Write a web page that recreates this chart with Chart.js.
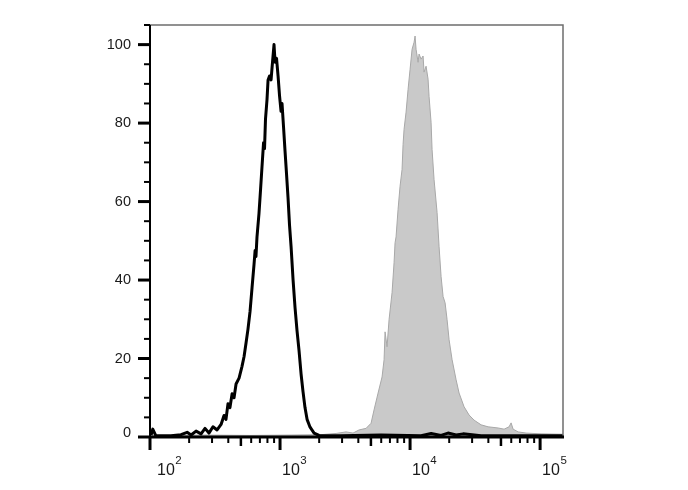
<!DOCTYPE html>
<html>
<head>
<meta charset="utf-8">
<script src="https://cdn.jsdelivr.net/npm/chart.js@4/dist/chart.umd.min.js"></script>
<style>
  html, body { margin: 0; padding: 0; background: #fff; }
  canvas { display: block; }
</style>
</head>
<body>
<canvas id="histo" width="688" height="490"></canvas>
<script>
// black outline histogram (unstained / isotype)
const blackX = [102, 105, 111, 145, 173, 193, 207, 226, 247, 265, 284, 305, 328, 352, 371, 384, 398, 412, 428, 443,
  459, 484, 510, 529, 548, 567, 588, 609, 631, 643, 653, 665, 689, 708, 727, 747, 760, 773, 794, 809,
  830, 853, 875, 899, 916, 940, 966, 991, 1018, 1036, 1064, 1092, 1122, 1152, 1183, 1216, 1260, 1304, 1352, 1400,
  1452, 1503, 1556, 1614, 1702, 1828, 1995, 2944, 5984, 12162, 14521, 17298, 19588, 22594, 25586, 35156, 71450, 150000];
const blackY = [0.5, 2.0, 0.3, 0.3, 0.6, 1.2, 0.5, 1.5, 0.8, 2.2, 1.0, 2.6, 1.8, 3.2, 5.5, 4.5, 8.5, 7.5, 11, 10,
  13.5, 15, 18, 20.5, 24, 27.5, 32, 38, 44, 47.5, 46, 51, 57, 63, 69, 75, 73.5, 81, 86, 91,
  92, 91, 95.5, 100, 95.5, 96.5, 92, 87, 83, 85, 79, 73, 67, 61, 54, 48.5, 40, 33, 27, 22,
  16, 11.5, 7.5, 4.5, 2.5, 1.0, 0.4, 0.3, 0.5, 0.3, 0.9, 0.4, 1.0, 0.5, 0.8, 0.3, 0.3, 0.3];

// grey filled histogram (stained)
const greyX = [102, 247, 598, 1216, 2068, 2697, 3219, 3643, 4053, 4587, 5012, 5284, 5674, 6090, 6310, 6423, 6653, 6892, 7268, 7530,
  7665, 7802, 8084, 8376, 8678, 8834, 8991, 9316, 9652, 10000, 10361, 10734, 10926, 11122, 11524, 11729, 12152, 12589, 12813, 13275,
  13753, 14000, 14505, 14763, 15296, 16134, 16716, 17318, 17943, 18590, 19260, 19953, 21043, 22589, 23823, 26028, 28436, 31071, 35179, 39811,
  47534, 52868, 57744, 59842, 61998, 67746, 78019, 101790, 150000];
const greyY = [0.3, 0.5, 0.4, 0.5, 0.6, 0.9, 1.3, 1.0, 1.8, 2.2, 3.5, 6.9, 11.2, 15.3, 19.7, 26.8, 23, 29.9, 36.8, 44.4,
  49.5, 51, 58, 63.9, 68.2, 74.6, 78.4, 82.8, 88.6, 93.7, 98.8, 100.6, 102.2, 98.8, 95.5, 97.6, 96.3, 97.1, 93, 94.5,
  91.2, 86.8, 80.2, 73.3, 65.6, 57.2, 48.5, 40.9, 35.8, 34.2, 29.9, 24.8, 19.7, 14.6, 11.2, 7.7, 5.6, 4.3, 3.1, 2.6,
  2.3, 2.0, 2.6, 3.6, 2.0, 1.3, 1.0, 0.8, 0.7];

const yLabels = [0, 20, 40, 60, 80, 100];
const xDecades = [2, 3, 4, 5];
const xMin = 100, xMax = 150000;
const yMin = 0, yMax = 105;

function points(xs, ys) {
  return xs.map((x, i) => ({ x: x, y: ys[i] }));
}

const FONT = '"Liberation Sans", Arial, sans-serif';

const axesPlugin = {
  id: 'flowAxes',
  afterDatasetsDraw(chart) {
    const ctx = chart.ctx;
    const area = chart.chartArea;
    const xs = chart.scales.x;
    const ys = chart.scales.y;
    ctx.save();
    ctx.lineCap = 'butt';

    // thin grey frame on top and right
    ctx.strokeStyle = '#6e6e6e';
    ctx.lineWidth = 1.5;
    ctx.beginPath();
    ctx.moveTo(area.left, area.top);
    ctx.lineTo(area.right, area.top);
    ctx.lineTo(area.right, area.bottom);
    ctx.stroke();

    // black axes
    ctx.strokeStyle = '#000';
    ctx.lineWidth = 2;
    ctx.beginPath();
    ctx.moveTo(area.left, area.top);
    ctx.lineTo(area.left, area.bottom);
    ctx.stroke();
    ctx.lineWidth = 3;
    ctx.beginPath();
    ctx.moveTo(area.left - 1, area.bottom);
    ctx.lineTo(area.right + 1, area.bottom);
    ctx.stroke();

    // y ticks
    for (let v = yMin; v <= yMax; v += 5) {
      const py = ys.getPixelForValue(v);
      const major = v % 20 === 0;
      ctx.lineWidth = major ? 3 : 2;
      ctx.beginPath();
      ctx.moveTo(area.left - (major ? 12 : 6), py);
      ctx.lineTo(area.left, py);
      ctx.stroke();
    }
    ctx.fillStyle = '#1a1a1a';
    ctx.font = '14.5px ' + FONT;
    ctx.textAlign = 'right';
    ctx.textBaseline = 'middle';
    yLabels.forEach(v => {
      const py = ys.getPixelForValue(v) - (v === 0 ? 4 : 0);
      ctx.fillText(String(v), area.left - 19, py);
    });

    // x ticks (log decades with minor ticks)
    xDecades.forEach(d => {
      for (let m = 1; m <= 9; m++) {
        const v = m * Math.pow(10, d);
        if (v < xMin || v > xMax) continue;
        const px = xs.getPixelForValue(v);
        let len = 6, w = 2;
        if (m === 1) { len = 13; w = 3; }
        else if (m === 5) { len = 9; w = 2.5; }
        ctx.lineWidth = w;
        ctx.beginPath();
        ctx.moveTo(px, area.bottom);
        ctx.lineTo(px, area.bottom + len);
        ctx.stroke();
      }
    });

    // x labels 10^d
    ctx.textAlign = 'left';
    ctx.textBaseline = 'alphabetic';
    xDecades.forEach(d => {
      const px = xs.getPixelForValue(Math.pow(10, d));
      const lx = Math.max(px + 2, area.left + 7);
      ctx.font = '16px ' + FONT;
      ctx.fillText('10', lx, 475);
      const w = ctx.measureText('10').width;
      ctx.font = '11.5px ' + FONT;
      ctx.fillText(String(d), lx + w + 0.5, 464);
    });

    ctx.restore();
  }
};

new Chart(document.getElementById('histo'), {
  type: 'line',
  data: {
    datasets: [
      {
        label: 'control',
        data: points(blackX, blackY),
        borderColor: '#000',
        borderWidth: 3,
        pointRadius: 0,
        tension: 0,
        fill: false,
        borderJoinStyle: 'round'
      },
      {
        label: 'stained',
        data: points(greyX, greyY),
        borderColor: '#a8a8a8',
        borderWidth: 1,
        backgroundColor: '#c9c9c9',
        pointRadius: 0,
        tension: 0,
        fill: 'origin'
      }
    ]
  },
  options: {
    responsive: false,
    animation: false,
    layout: { padding: { left: 150, right: 125, top: 25, bottom: 53 } },
    plugins: { legend: { display: false }, tooltip: { enabled: false } },
    scales: {
      x: { type: 'logarithmic', min: xMin, max: xMax, display: false },
      y: { type: 'linear', min: yMin, max: yMax, display: false }
    }
  },
  plugins: [axesPlugin]
});
</script>
</body>
</html>
